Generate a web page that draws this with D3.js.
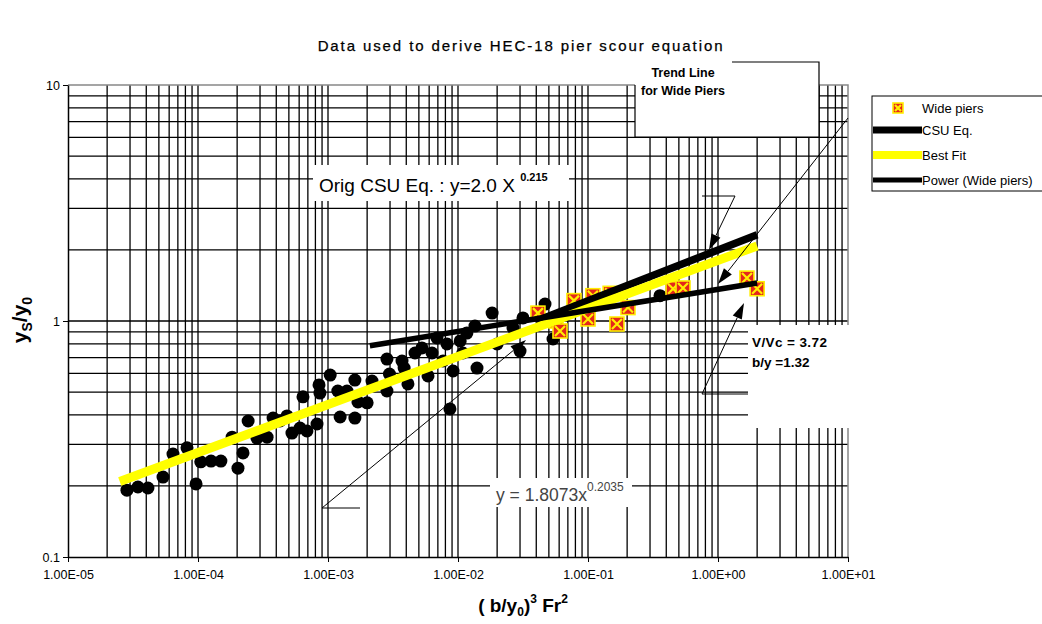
<!DOCTYPE html>
<html><head><meta charset="utf-8">
<script src="https://cdn.jsdelivr.net/npm/d3@7"></script>
<style>
body{margin:0;background:#fff;}
svg{display:block;font-family:"Liberation Sans",Arial,sans-serif;}
</style></head>
<body>
<svg id="c" width="1042" height="624"></svg>
<script>
// ---------- data ----------
const xTickValues = [1e-5, 1e-4, 1e-3, 1e-2, 1e-1, 1e0, 1e1];
const xTickLabels = ["1.00E-05","1.00E-04","1.00E-03","1.00E-02","1.00E-01","1.00E+00","1.00E+01"];
const yTickValues = [0.1, 1, 10];
const yTickLabels = ["0.1","1","10"];

// original (narrow pier) data points
const origX = [2.84e-5,3.45e-5,4.12e-5,5.38e-5,6.42e-5,8.23e-5,9.66e-5,1.05e-4,1.26e-4,1.50e-4,
  1.83e-4,2.03e-4,2.22e-4,2.43e-4,2.84e-4,3.40e-4,3.78e-4,4.27e-4,4.84e-4,5.28e-4,
  6.09e-4,6.42e-4,6.89e-4,8.23e-4,8.53e-4,8.67e-4,1.04e-3,1.19e-3,1.24e-3,1.40e-3,
  1.61e-3,1.61e-3,1.70e-3,2.0e-3,2.18e-3,2.84e-3,2.84e-3,2.97e-3,3.71e-3,3.85e-3,
  4.12e-3,5.28e-3,5.88e-3,6.89e-3,8.23e-3,8.67e-3,9.16e-3,1.04e-2,1.17e-2,1.35e-2,
  1.40e-2,1.83e-2,2.65e-2,3.16e-2,4.67e-2,5.38e-2,3.0e-2,0.358,4.67e-3,6.31e-3,
  7.67e-3,1.09e-2,2.0e-2];
const origY = [0.192,0.198,0.196,0.218,0.273,0.290,0.204,0.253,0.255,0.255,
  0.322,0.238,0.276,0.377,0.319,0.322,0.388,0.377,0.396,0.335,
  0.352,0.477,0.342,0.366,0.536,0.495,0.590,0.505,0.392,0.505,
  0.562,0.388,0.454,0.450,0.557,0.505,0.690,0.596,0.677,0.632,
  0.541,0.769,0.585,0.847,0.799,0.424,0.614,0.823,0.889,0.952,
  0.632,1.08,0.934,1.03,1.18,0.839,0.746,1.28,0.732,0.732,
  0.677,0.732,0.799];

// wide pier data points
const wideX = [4.12e-2,5.67e-2,6.09e-2,7.80e-2,0.100,0.109,0.148,0.167,0.203,0.451,0.538,1.67,2.0];
const wideY = [1.08,1.00,0.907,1.22,1.02,1.28,1.31,0.971,1.14,1.37,1.38,1.52,1.37];

// trend lines (end points)
const csuX = [0.04, 2], csuY = [1.00, 2.32];           // y = 2.0 X^0.215
const bestX = [2.5e-5, 2], bestY = [0.209, 2.08];      // y = 1.8073 x^0.2035
const powX = [0.0021, 2], powY = [0.785, 1.45];        // power (wide piers)

const legendLabels = ["Wide piers","CSU Eq.","Best Fit","Power (Wide piers)"];

// ---------- chart ----------
const svg = d3.select("#c");
const L = 68, R = 848, T = 85, B = 557;
const x = d3.scaleLog().domain([1e-5, 1e1]).range([L, R]);
const y = d3.scaleLog().domain([0.1, 10]).range([B, T]);
const nar = "'Liberation Sans Narrow','Liberation Sans',Arial,sans-serif";

// title
svg.append("text").attr("x", 521).attr("y", 51).attr("text-anchor","middle")
  .style("font-size","15px").style("letter-spacing","1.9px")
  .attr("stroke","#000").attr("stroke-width",0.25)
  .text("Data used to derive HEC-18 pier scour equation");

// grid
const gx = [], gy = [];
for (let e = -5; e < 1; e++) for (let k = 1; k <= 9; k++) gx.push(k * Math.pow(10, e));
gx.push(10);
for (let e = -1; e < 1; e++) for (let k = 1; k <= 9; k++) gy.push(k * Math.pow(10, e));
gy.push(10);
const grid = svg.append("g");
grid.selectAll("line.v").data(gx.filter(v => v > 1e-5 && v < 10)).join("line")
  .attr("x1", d => x(d)).attr("x2", d => x(d)).attr("y1", T).attr("y2", B)
  .attr("stroke", "#000").attr("stroke-width", 1.3);
grid.selectAll("line.h").data(gy.filter(v => v > 0.1 && v < 10)).join("line")
  .attr("x1", L).attr("x2", R).attr("y1", d => y(d)).attr("y2", d => y(d))
  .attr("stroke", "#000").attr("stroke-width", 1.3);
// border top/right
svg.append("path").attr("d", `M${L},${T}H${R}V${B}`).attr("fill","none")
  .attr("stroke","#888").attr("stroke-width",1.5);

// axes
const xAxis = d3.axisBottom(x).tickValues(xTickValues)
  .tickFormat((d, i) => xTickLabels[i]).tickSize(5).tickSizeOuter(0);
const gxA = svg.append("g").attr("transform", `translate(0,${B})`).call(xAxis);
gxA.select(".domain").attr("stroke-width", 1.5);
gxA.selectAll("text").style("font-size","12.5px").attr("dy","1.1em").style("font-family",nar);
const yAxis = d3.axisLeft(y).tickValues(yTickValues)
  .tickFormat((d, i) => yTickLabels[i]).tickSize(5).tickSizeOuter(0);
const gyA = svg.append("g").attr("transform", `translate(${L},0)`).call(yAxis);
gyA.select(".domain").attr("stroke-width", 1.5);
gyA.selectAll("text").style("font-size","12.5px").style("font-family",nar);

// axis titles
const yl = svg.append("text").attr("transform","translate(27,320) rotate(-90)")
  .attr("text-anchor","middle").style("font-size","21px").style("font-weight","bold");
yl.append("tspan").text("y");
yl.append("tspan").text("S").style("font-size","14px").attr("dy","5");
yl.append("tspan").text("/y").attr("dy","-5");
yl.append("tspan").text("0").style("font-size","14px").attr("dy","5");

const xl = svg.append("text").attr("x", 523).attr("y", 612).attr("text-anchor","middle")
  .style("font-size","19px").style("font-weight","bold");
xl.append("tspan").text("( b/y");
xl.append("tspan").text("0").style("font-size","12px").attr("dy","4");
xl.append("tspan").text(")").attr("dy","-4");
xl.append("tspan").text("3").style("font-size","12px").attr("dy","-9");
xl.append("tspan").text(" Fr").attr("dy","9");
xl.append("tspan").text("2").style("font-size","12px").attr("dy","-9");

// white annotation boxes (covering grid)
svg.append("rect").attr("x",313).attr("y",165).attr("width",256).attr("height",36).attr("fill","#fff");
svg.append("rect").attr("x",748).attr("y",325).attr("width",104).attr("height",103).attr("fill","#fff");
svg.append("rect").attr("x",490).attr("y",478).attr("width",142).attr("height",29).attr("fill","#fff");
svg.append("rect").attr("x",635).attr("y",62).attr("width",184).attr("height",75).attr("fill","#fff");
svg.append("path").attr("d","M732,62H819V137H635V85").attr("fill","none").attr("stroke","#000").attr("stroke-width",1.2);

// original data dots
const orig = origX.map((v, i) => ({x: v, y: origY[i]}));
svg.append("g").selectAll("circle").data(orig).join("circle")
  .attr("cx", d => x(d.x)).attr("cy", d => y(d.y)).attr("r", 6.5).attr("fill", "#000");

// wide pier markers
function marker(g, s) {
  g.append("rect").attr("x",-s/2).attr("y",-s/2).attr("width",s).attr("height",s)
    .attr("fill","#e4261c").attr("stroke","#ffee00").attr("stroke-width",1.6);
  const q = s/2 - 2;
  g.append("path").attr("d",`M${-q},${-q}L${q},${q}M${-q},${q}L${q},${-q}`)
    .attr("stroke","#ffee00").attr("stroke-width",2.2);
}
const wide = wideX.map((v, i) => ({x: v, y: wideY[i]}));
svg.append("g").selectAll("g").data(wide).join("g")
  .attr("transform", d => `translate(${x(d.x)},${y(d.y)})`)
  .each(function(){ marker(d3.select(this), 14); });

// trend lines
const line = d3.line().x(d => x(d[0])).y(d => y(d[1]));
function trend(xs, ys, col, w) {
  svg.append("path").attr("d", line(xs.map((v, i) => [v, ys[i]])))
    .attr("fill","none").attr("stroke",col).attr("stroke-width",w);
}
trend(csuX, csuY, "#000", 7.5);
trend(bestX, bestY, "#ffff00", 9);
trend(powX, powY, "#000", 5.5);

// annotations text
const t1 = svg.append("text").attr("x",319).attr("y",192).style("font-size","19px");
t1.append("tspan").text("Orig CSU Eq. : y=2.0 X ");
t1.append("tspan").text("0.215").style("font-size","11px").style("font-weight","bold").attr("dy","-11");

const t2 = svg.append("text").attr("x",496).attr("y",501).style("font-size","17.5px").attr("fill","#444");
t2.append("tspan").text("y = 1.8073x");
t2.append("tspan").text("0.2035").style("font-size","12px").attr("dy","-10");

svg.append("text").attr("x",683).attr("y",77).attr("text-anchor","middle")
  .style("font-size","12.5px").style("font-weight","bold").style("font-family",nar).text("Trend Line");
svg.append("text").attr("x",683).attr("y",95).attr("text-anchor","middle")
  .style("font-size","12.5px").style("font-weight","bold").style("font-family",nar).text("for Wide Piers");
svg.append("text").attr("x",752).attr("y",347)
  .style("font-size","13.5px").style("font-weight","bold").style("font-family",nar)
  .style("letter-spacing","0.4px").text("V/Vc  =  3.72");
svg.append("text").attr("x",752).attr("y",367)
  .style("font-size","13.5px").style("font-weight","bold").style("font-family",nar).text("b/y =1.32");

// leader lines with arrow heads
function arrow(pts, tip, headLen) {
  svg.append("path").attr("d", d3.line()(pts)).attr("fill","none").attr("stroke","#000").attr("stroke-width",1);
  const from = pts[pts.length - 1];
  const ang = Math.atan2(tip[1] - from[1], tip[0] - from[0]);
  const hl = headLen, hw = 5;
  const bx = tip[0] - hl * Math.cos(ang), by = tip[1] - hl * Math.sin(ang);
  const px = -Math.sin(ang) * hw, py = Math.cos(ang) * hw;
  svg.append("path").attr("d", `M${from[0]},${from[1]}L${bx},${by}`).attr("stroke","#000").attr("stroke-width",1);
  svg.append("path").attr("d", `M${tip[0]},${tip[1]}L${bx+px},${by+py}L${bx-px},${by-py}Z`).attr("fill","#000");
}
arrow([[702,196],[735,196]], [709,250], 16);
arrow([[848,118]], [718,284], 16);
arrow([[748,394],[702,394]], [744,303], 16);
arrow([[360,508],[322,508]], [526,340], 16);

// legend
const lg = svg.append("g");
lg.append("rect").attr("x",872).attr("y",96).attr("width",185).attr("height",95)
  .attr("fill","#fff").attr("stroke","#000").attr("stroke-width",1);
const lgRows = [108, 130, 155, 180];
lgRows.forEach((yy, i) => {
  lg.append("text").attr("x", 922).attr("y", yy + 4.5)
    .style("font-size","13px").text(legendLabels[i]);
});
marker(lg.append("g").attr("transform","translate(898,108)"), 10);
lg.append("line").attr("x1",873).attr("x2",922).attr("y1",130).attr("y2",130).attr("stroke","#000").attr("stroke-width",7);
lg.append("line").attr("x1",873).attr("x2",922).attr("y1",155).attr("y2",155).attr("stroke","#ffff00").attr("stroke-width",8);
lg.append("line").attr("x1",873).attr("x2",922).attr("y1",180).attr("y2",180).attr("stroke","#000").attr("stroke-width",5);
</script>
</body></html>
